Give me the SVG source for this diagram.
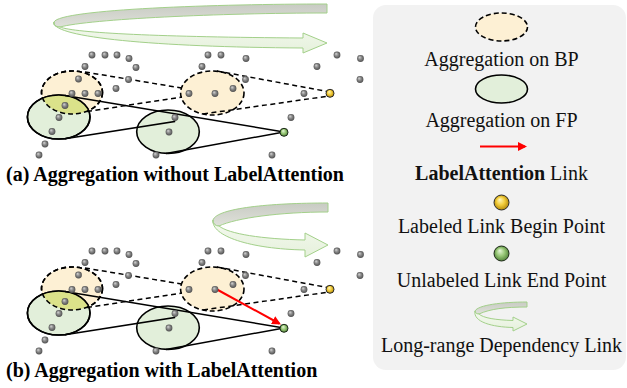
<svg xmlns="http://www.w3.org/2000/svg" width="627" height="388" viewBox="0 0 627 388">
  <style>
    .bp { fill: #fdf0d4; stroke: #000; stroke-width: 1.6; stroke-dasharray: 5 3; }
    .fp { fill: #e2efda; stroke: #000; stroke-width: 1.6; }
    .ring-bp { fill: none; stroke: #000; stroke-width: 1.6; stroke-dasharray: 5 3; }
    .ring-fp { fill: none; stroke: #000; stroke-width: 1.6; }
    .both { fill: #dbe28a; stroke: none; }
    .dash { fill: none; stroke: #000; stroke-width: 1.5; stroke-dasharray: 5 3.5; }
    .solid { fill: none; stroke: #000; stroke-width: 1.5; }
    .attn { fill: none; stroke: #ff0000; stroke-width: 2; marker-end: url(#redHead); }
    .back { fill: url(#gBack); stroke: #a3d08a; stroke-width: 1; }
    .front { fill: url(#gFront); stroke: #a3d08a; stroke-width: 1; }
    .begin { fill: url(#gY); stroke: #2a2a2a; stroke-width: 1; }
    .end { fill: url(#gG); stroke: #1e2a1a; stroke-width: 1; }
    .title { font-family: "Liberation Serif", "Times New Roman", serif; font-size: 20px; font-weight: bold; fill: #000; }
    .lg { font-family: "Liberation Serif", "Times New Roman", serif; font-size: 20px; text-anchor: middle; fill: #111; }
  </style>
  <defs>
    <radialGradient id="gPt" cx="0.5" cy="0.5" r="0.55" fx="0.35" fy="0.3">
      <stop offset="0" stop-color="#d8d8d8"/>
      <stop offset="0.45" stop-color="#8c8c8c"/>
      <stop offset="1" stop-color="#474747"/>
    </radialGradient>
    <radialGradient id="gY" cx="0.5" cy="0.5" r="0.55" fx="0.38" fy="0.3">
      <stop offset="0" stop-color="#fff8c0"/>
      <stop offset="0.5" stop-color="#f2cc3a"/>
      <stop offset="1" stop-color="#a97f05"/>
    </radialGradient>
    <radialGradient id="gG" cx="0.5" cy="0.5" r="0.55" fx="0.38" fy="0.3">
      <stop offset="0" stop-color="#e8f7da"/>
      <stop offset="0.5" stop-color="#97c776"/>
      <stop offset="1" stop-color="#4a7a32"/>
    </radialGradient>
    <linearGradient id="gBack" x1="0" y1="0" x2="0" y2="1">
      <stop offset="0" stop-color="#c8cbc3"/>
      <stop offset="1" stop-color="#dfe1da"/>
    </linearGradient>
    <linearGradient id="gFront" x1="0" y1="0" x2="0" y2="1">
      <stop offset="0" stop-color="#f4f9ef"/>
      <stop offset="1" stop-color="#e6f1dc"/>
    </linearGradient>
    <circle id="pt" r="3.4" fill="url(#gPt)"/>
    <clipPath id="clipBP1">
      <ellipse cx="72" cy="92.5" rx="30.5" ry="21.5"/>
    </clipPath>
    <marker id="redHead" markerUnits="userSpaceOnUse" markerWidth="10" markerHeight="9" refX="7" refY="4.5" orient="auto">
      <path d="M0,0 L9,4.5 L0,9 Z" fill="#ff0000"/>
    </marker>
    <!-- scattered background points shared by both panels -->
    <g id="scatter">
      <use href="#pt" x="92" y="55"/><use href="#pt" x="105" y="55"/><use href="#pt" x="117" y="55"/>
      <use href="#pt" x="129" y="58.5"/><use href="#pt" x="85" y="66.5"/><use href="#pt" x="136" y="67.5"/>
      <use href="#pt" x="78.5" y="79"/><use href="#pt" x="128.5" y="79.5"/><use href="#pt" x="116" y="88.5"/>
      <use href="#pt" x="72" y="93.5"/><use href="#pt" x="85" y="93.5"/><use href="#pt" x="98" y="93.5"/>
      <use href="#pt" x="65" y="105.5"/><use href="#pt" x="59" y="117.5"/><use href="#pt" x="52" y="131.5"/>
      <use href="#pt" x="45" y="144"/><use href="#pt" x="39" y="155"/>
      <use href="#pt" x="208" y="55"/><use href="#pt" x="221" y="55"/><use href="#pt" x="246" y="58.5"/>
      <use href="#pt" x="202" y="66.5"/><use href="#pt" x="245.5" y="79.5"/><use href="#pt" x="189" y="93.5"/>
      <use href="#pt" x="215" y="93.5"/><use href="#pt" x="233" y="88.5"/><use href="#pt" x="175" y="117.5"/>
      <use href="#pt" x="169" y="132"/><use href="#pt" x="156" y="155"/>
      <use href="#pt" x="304" y="93.5"/><use href="#pt" x="291" y="117.5"/><use href="#pt" x="272" y="155"/>
      <use href="#pt" x="337" y="55"/><use href="#pt" x="360.5" y="58.5"/><use href="#pt" x="317" y="66.5"/>
      <use href="#pt" x="360" y="79.5"/>
    </g>
  </defs>

  <!-- (a) aggregation without LabelAttention -->
  <g id="longrange-a">
    <path class="back" d="M327,4 C220,4 60,9 54,22 C53,25 56,27 60,27 C90,19 220,13 327,13 Z"/>
    <path class="front" d="M54,22 C51,37 150,47 303,48 L303,53 L327,43 L303,33 L303,38 C160,37 75,33 60,27 C56,27 53,25 54,22 Z"/>
  </g>
  <g id="panel-a">
    <g id="bp-a1"><ellipse class="bp" cx="72" cy="92.5" rx="30.5" ry="21.5"/></g>
    <g id="bp-a2"><ellipse class="bp" cx="212.3" cy="93" rx="31.7" ry="22"/></g>
    <g id="fp-a1"><ellipse class="fp" cx="58.7" cy="117" rx="31.3" ry="22"/></g>
    <g id="fp-a2"><ellipse class="fp" cx="168" cy="131.7" rx="31.3" ry="21.7"/></g>
    <g id="overlap-a">
      <ellipse class="both" cx="58.7" cy="117" rx="31.3" ry="22" clip-path="url(#clipBP1)"/>
      <ellipse class="ring-bp" cx="72" cy="92.5" rx="30.5" ry="21.5"/>
      <ellipse class="ring-fp" cx="58.7" cy="117" rx="31.3" ry="22"/>
    </g>
    <g id="links-a">
      <path class="dash" d="M85,72 L181.5,88"/>
      <path class="dash" d="M87,111.5 L182,97"/>
      <path class="dash" d="M217,71 L330,92"/>
      <path class="dash" d="M203,114 L329,96"/>
      <path class="solid" d="M65,95.5 L284,132"/>
      <path class="solid" d="M65,138.8 L174.5,121.5 L175.5,114"/>
      <path class="solid" d="M166,153.4 L284,132"/>
    </g>
    <use href="#scatter"/>
    <g id="begin-a"><circle class="begin" cx="330" cy="93.3" r="4"/></g>
    <g id="end-a"><circle class="end" cx="284" cy="132.3" r="4"/></g>
    <text class="title" x="6" y="181">(a) Aggregation without LabelAttention</text>
  </g>

  <!-- (b) aggregation with LabelAttention -->
  <g id="longrange-b">
    <path class="back" d="M328,203 C270,203 217,208 213,220 C212.5,223.5 215.5,226 219,226 C236,218 280,212 328,212 Z"/>
    <path class="front" d="M213,220 C211,236 250,249 305,250 L305,257 L328,245 L305,233 L305,240 C262,239 229,234 219,226 C215.5,226 212.5,223.5 213,220 Z"/>
  </g>
  <g id="panel-b" transform="translate(0,196)">
    <g id="bp-b1"><ellipse class="bp" cx="72" cy="92.5" rx="30.5" ry="21.5"/></g>
    <g id="bp-b2"><ellipse class="bp" cx="212.3" cy="93" rx="31.7" ry="22"/></g>
    <g id="fp-b1"><ellipse class="fp" cx="58.7" cy="117" rx="31.3" ry="22"/></g>
    <g id="fp-b2"><ellipse class="fp" cx="168" cy="131.7" rx="31.3" ry="21.7"/></g>
    <g id="overlap-b">
      <ellipse class="both" cx="58.7" cy="117" rx="31.3" ry="22" clip-path="url(#clipBP1)"/>
      <ellipse class="ring-bp" cx="72" cy="92.5" rx="30.5" ry="21.5"/>
      <ellipse class="ring-fp" cx="58.7" cy="117" rx="31.3" ry="22"/>
    </g>
    <g id="links-b">
      <path class="dash" d="M85,72 L181.5,88"/>
      <path class="dash" d="M87,111.5 L182,97"/>
      <path class="dash" d="M217,71 L330,92"/>
      <path class="dash" d="M203,114 L329,96"/>
      <path class="solid" d="M65,95.5 L284,132"/>
      <path class="solid" d="M65,138.8 L174.5,121.5 L175.5,114"/>
      <path class="solid" d="M166,153.4 L284,132"/>
      <path class="attn" d="M217,93.5 L279.2,127.5"/>
    </g>
    <use href="#scatter"/>
    <g id="begin-b"><circle class="begin" cx="330" cy="93.3" r="4"/></g>
    <g id="end-b"><circle class="end" cx="284" cy="132.3" r="4"/></g>
    <text class="title" x="6" y="181">(b) Aggregation with LabelAttention</text>
  </g>

  <!-- legend -->
  <g id="legend">
    <rect x="373" y="5" width="253" height="365" rx="13" fill="#f2f2f2"/>
    <g id="legend-bp">
      <ellipse class="bp" cx="501.5" cy="27" rx="26" ry="14"/>
      <text class="lg" x="501.5" y="66">Aggregation on BP</text>
    </g>
    <g id="legend-fp">
      <ellipse class="fp" cx="501.5" cy="89" rx="26" ry="14"/>
      <text class="lg" x="501.5" y="127">Aggregation on FP</text>
    </g>
    <g id="legend-attn">
      <path class="attn" d="M480,146.5 L525,146.5"/>
      <text class="lg" x="501.5" y="180"><tspan font-weight="bold">LabelAttention</tspan> Link</text>
    </g>
    <g id="legend-begin">
      <circle class="begin" cx="501.5" cy="202.5" r="7.5"/>
      <text class="lg" x="501.5" y="233">Labeled Link Begin Point</text>
    </g>
    <g id="legend-end">
      <circle class="end" cx="501.5" cy="253.5" r="7.5"/>
      <text class="lg" x="501.5" y="287">Unlabeled Link End Point</text>
    </g>
    <g id="legend-longrange">
      <path class="back" d="M527,302 C502,302 478,305 475,311 C475,313 477,314 479,314 C490,309 505,307 527,307 Z"/>
      <path class="front" d="M475,311 C473,322 492,327 513,327.5 L513,331 L527,324 L513,317 L513,320.5 C496,320 483,318 479,314 C477,314 475,313 475,311 Z"/>
      <text class="lg" x="501.5" y="352">Long-range Dependency Link</text>
    </g>
  </g>
</svg>
